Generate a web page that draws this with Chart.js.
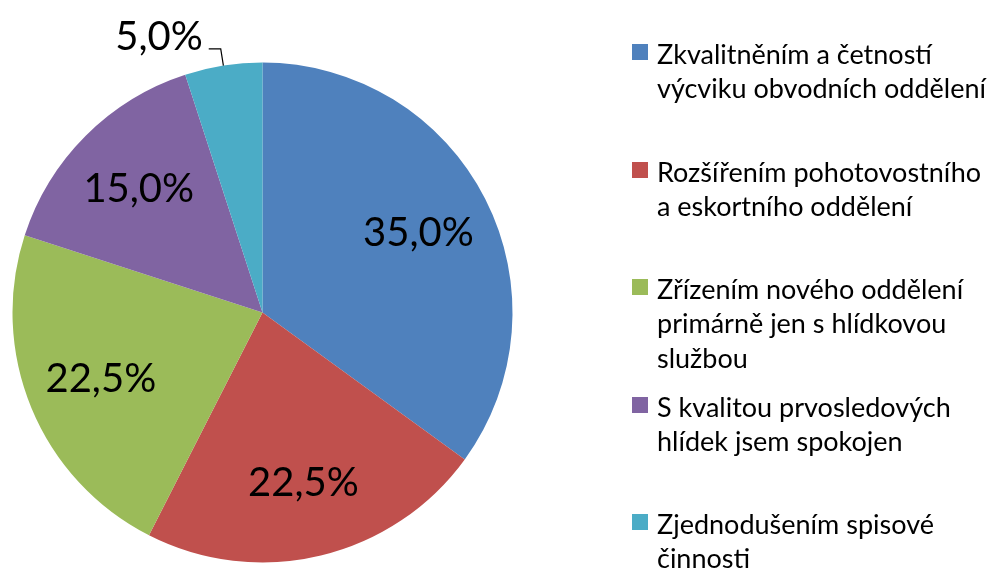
<!DOCTYPE html>
<html>
<head>
<meta charset="utf-8">
<script src="https://cdn.jsdelivr.net/npm/chart.js@4/dist/chart.umd.min.js"></script>
<style>
html,body{margin:0;padding:0;background:#fff;}
#wrap{width:988px;height:570px;position:relative;}
</style>
</head>
<body>
<div id="wrap"><canvas id="c" width="988" height="570"></canvas></div>
<script>
const categories = [
  ["Zkvalitněním a četností", "výcviku obvodních oddělení"],
  ["Rozšířením pohotovostního", "a eskortního oddělení"],
  ["Zřízením nového oddělení", "primárně jen s hlídkovou", "službou"],
  ["S kvalitou prvosledových", "hlídek jsem spokojen"],
  ["Zjednodušením spisové", "činnosti"]
];
const values = [35.0, 22.5, 22.5, 15.0, 5.0];
const colors = ["#4F81BD", "#C0504D", "#9BBB59", "#8064A2", "#4BACC6"];

const FONT = "Lato, 'Open Sans', sans-serif";

const labelPlugin = {
  id: 'pieLabels',
  afterDatasetsDraw(chart) {
    const ctx = chart.ctx;
    const meta = chart.getDatasetMeta(0);
    const ds = chart.data.datasets[0];
    const total = ds.data.reduce((a, b) => a + b, 0);
    ctx.save();
    ctx.fillStyle = '#000';
    ctx.font = "40px " + FONT;
    meta.data.forEach((arc, i) => {
      const v = ds.data[i];
      const pct = (v / total * 100).toFixed(1).replace('.', ',') + '%';
      const p = arc.getProps(['x', 'y', 'startAngle', 'endAngle', 'outerRadius'], true);
      const mid = (p.startAngle + p.endAngle) / 2;
      const R = p.outerRadius;
      if (v / total < 0.08) {
        const ex = p.x + R * Math.cos(mid), ey = p.y + R * Math.sin(mid);
        const ox = p.x + (R + 17) * Math.cos(mid), oy = p.y + (R + 17) * Math.sin(mid);
        const hx = ox - 12;
        ctx.strokeStyle = '#000';
        ctx.lineWidth = 1.2;
        ctx.beginPath();
        ctx.moveTo(ex, ey);
        ctx.lineTo(ox, oy);
        ctx.lineTo(hx, oy);
        ctx.stroke();
        ctx.textAlign = 'right';
        ctx.textBaseline = 'alphabetic';
        ctx.fillText(pct, hx - 6, oy + 1);
      } else {
        const r = R * 0.70;
        ctx.textAlign = 'center';
        ctx.textBaseline = 'middle';
        ctx.fillText(pct, p.x + r * Math.cos(mid), p.y + r * Math.sin(mid));
      }
    });
    ctx.restore();
  }
};

const legendPlugin = {
  id: 'sideLegend',
  afterDraw(chart) {
    const ctx = chart.ctx;
    const labels = chart.data.labels;
    const cols = chart.data.datasets[0].backgroundColor;
    const boxX = 632, textX = 657, firstBase = 64, itemStep = 117.5, lineStep = 34.3;
    ctx.save();
    ctx.font = "27px " + FONT;
    ctx.textAlign = 'left';
    ctx.textBaseline = 'alphabetic';
    labels.forEach((lines, i) => {
      const base = firstBase + i * itemStep;
      ctx.fillStyle = cols[i];
      ctx.fillRect(boxX, Math.round(base - 20), 16, 16);
      ctx.fillStyle = '#000';
      lines.forEach((t, j) => ctx.fillText(t, textX, base + j * lineStep));
    });
    ctx.restore();
  }
};

new Chart(document.getElementById('c'), {
  type: 'pie',
  data: {
    labels: categories,
    datasets: [{
      data: values,
      backgroundColor: colors,
      borderWidth: 0
    }]
  },
  options: {
    responsive: false,
    animation: false,
    layout: { padding: { left: 12.5, top: 62.5, right: 475.5, bottom: 7.5 } },
    plugins: {
      legend: { display: false },
      tooltip: { enabled: false }
    }
  },
  plugins: [labelPlugin, legendPlugin]
});
</script>
</body>
</html>
